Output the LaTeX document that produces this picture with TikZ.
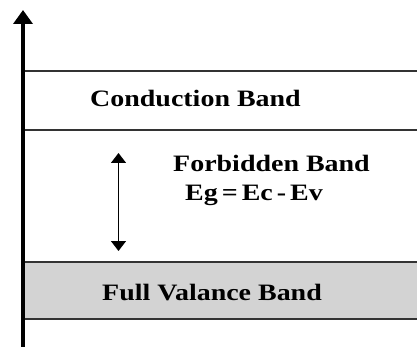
\documentclass[tikz,border=0pt]{standalone}
\usepackage{fontspec}
\setmainfont{Liberation Serif}
\newfontfamily\bandfont[FakeStretch=1.19]{Liberation Serif}
\usetikzlibrary{arrows.meta}
\definecolor{bandgray}{HTML}{D3D3D3}
\definecolor{linegray}{HTML}{333333}
\tikzset{
  bandlabel/.style={font=\bandfont\fontsize{23.5}{26}\selectfont\bfseries, text=black, inner sep=0pt, anchor=west},
  bandline/.style={draw=linegray, line width=2pt},
}
\begin{document}
\begin{tikzpicture}[x=1pt,y=-1pt]
\useasboundingbox (0,0) rectangle (417,347);
% valence band fill
\fill[bandgray] (23,262) rectangle (417,319);
\draw[bandline] (23,71) -- (417,71);
\draw[bandline] (23,130) -- (417,130);
\draw[bandline] (23,262) -- (417,262);
\draw[bandline] (23,319) -- (417,319);
% labels
\node[bandlabel] (cb) at (90,98) {Conduction Band};
\node[bandlabel] (fb) at (173,163) {Forbidden Band};
\node[bandlabel] (eg) at (185,195) {Eg\hspace{4pt}=\hspace{4pt}Ec\hspace{4pt}-\hspace{4pt}Ev};
\node[bandlabel] (vb) at (102,293) {Full Valance Band};
% gap arrow
\coordinate (gtop) at (118.5,153);
\coordinate (gbot) at (118.5,251);
\draw[line width=1.3pt, {Triangle[width=15pt,length=10pt]}-{Triangle[width=15pt,length=10pt]}] (gtop) -- (gbot);
% energy axis
\coordinate (abot) at (23,347);
\coordinate (atop) at (23,10);
\draw[line width=4pt, -{Triangle[width=19pt,length=14pt]}] (abot) -- (atop);
\end{tikzpicture}
\end{document}
